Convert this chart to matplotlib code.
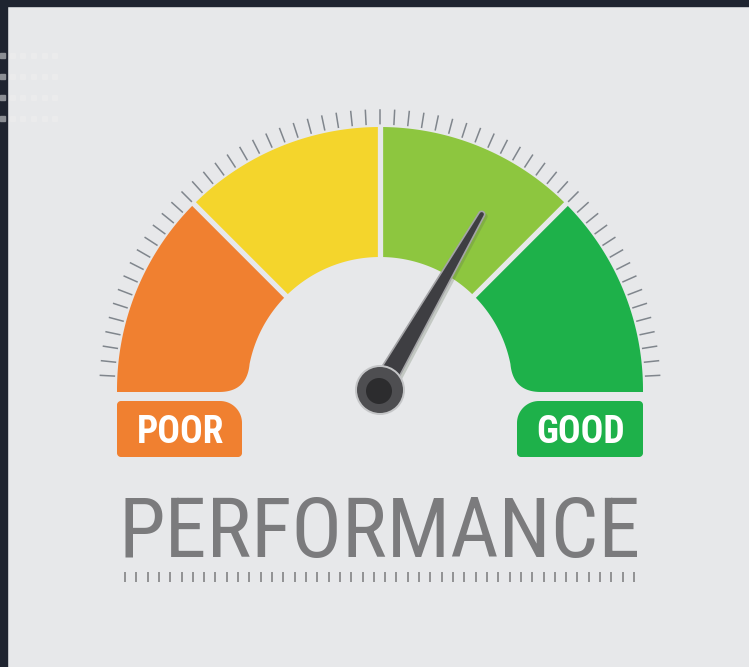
import numpy as np
import matplotlib.pyplot as plt
from matplotlib.patches import Polygon, Circle, Rectangle

# gauge data
zone_bounds = [0, 25, 50, 75, 100]
zone_colors = ["#f08030", "#f4d52c", "#8dc63f", "#1eb14a"]
zone_labels = ["POOR", "", "", "GOOD"]
needle_value = 66.7
scale_divisions = 60
ruler_count = 46
title = "PERFORMANCE"

BG = "#e7e8ea"
DARK = "#1f2430"
TICK = "#80868d"
TEXT = "#7b7b7d"

# geometry (pixels, y down)
cx, cy = 380, 390
r_out, r_in = 263, 133
y_bottom = 392
corner = 28


def val2ang(v):
    return 180.0 - 180.0 * v / 100.0


def pt(r, ang):
    a = np.radians(ang)
    return np.array([cx + r * np.cos(a), cy - r * np.sin(a)])


def arc(r, a0, a1, n=120):
    t = np.radians(np.linspace(a0, a1, n))
    return np.column_stack([cx + r * np.cos(t), cy - r * np.sin(t)])


def bezier(p0, p1, p2, n=30):
    t = np.linspace(0, 1, n)[:, None]
    return (1 - t) ** 2 * p0 + 2 * (1 - t) * t * p1 + t ** 2 * p2


def end_zone(a_inner):
    """left end zone (from a_inner up to 180 deg) with a flat, rounded bottom"""
    outer = arc(r_out, a_inner, 180)
    a_c = 180 - np.degrees(np.arcsin((cy - (y_bottom - corner)) / r_in))
    p0 = np.array([cx - r_in - corner, y_bottom])
    p1 = np.array([cx - r_in, y_bottom])
    p2 = pt(r_in, a_c)
    pts = np.vstack([outer, [[cx - r_out, y_bottom]], bezier(p0, p1, p2),
                     arc(r_in, a_c, a_inner)])
    return pts


def rounded_box(x0, y0, x1, y1, radii, n=20):
    tl, tr, br, bl = radii
    parts = []
    for (ccx, ccy, r, a0, a1) in [(x0 + tl, y0 + tl, tl, 180, 90),
                                  (x1 - tr, y0 + tr, tr, 90, 0),
                                  (x1 - br, y1 - br, br, 0, -90),
                                  (x0 + bl, y1 - bl, bl, -90, -180)]:
        t = np.radians(np.linspace(a0, a1, n))
        parts.append(np.column_stack([ccx + r * np.cos(t), ccy - r * np.sin(t)]))
    return np.vstack(parts)


fig = plt.figure(figsize=(7.49, 6.67), dpi=100)
fig.patch.set_facecolor(BG)
ax = fig.add_axes([0, 0, 1, 1])
ax.set_xlim(0, 749)
ax.set_ylim(667, 0)
ax.axis("off")

# dark frame on the left and top
ax.add_patch(Rectangle((0, 0), 7, 667, color=DARK, zorder=1))
ax.add_patch(Rectangle((0, 0), 749, 6, color=DARK, zorder=1))

# faint dots top left
for yy in [55, 76, 97, 118]:
    ax.add_patch(Rectangle((0, yy - 2.5), 4.5, 5, color="#8b8e94", zorder=2))
    for xx in [12.3, 22.7, 33.3, 44, 54.3]:
        ax.add_patch(Rectangle((xx - 2.5, yy - 2.5), 5, 5, color="#ebebec", zorder=2))

# zones
angles = [val2ang(v) for v in zone_bounds]
for i, col in enumerate(zone_colors):
    a0, a1 = angles[i + 1], angles[i]
    if i == 0:
        pts = end_zone(a0)
    elif i == len(zone_colors) - 1:
        pts = end_zone(180 - a1)
        pts[:, 0] = 2 * cx - pts[:, 0]
    else:
        pts = np.vstack([arc(r_out, a0, a1), arc(r_in, a1, a0)])
    ax.add_patch(Polygon(pts, closed=True, facecolor=col, edgecolor="none", zorder=3))

# gaps between zones
for a in angles[1:-1]:
    p, q = pt(r_in - 3, a), pt(r_out + 3, a)
    ax.plot([p[0], q[0]], [p[1], q[1]], color=BG, lw=3.8, solid_capstyle="butt", zorder=4)

# scale ticks around the dial
for k in range(1, scale_divisions):
    a = 180.0 * k / scale_divisions
    p, q = pt(r_out + 3, a), pt(r_out + 17, a)
    ax.plot([p[0], q[0]], [p[1], q[1]], color=TICK, lw=1.1, zorder=3)

# label boxes
y0_box, y1_box = y_bottom + 9, y_bottom + 65
boxes = [(cx - r_out, cx - r_in - 5, (4, 22, 4, 4)),
         (cx + r_in + 4, cx + r_out, (22, 4, 4, 4))]
for (x0, x1, radii), idx in zip(boxes, [0, len(zone_colors) - 1]):
    ax.add_patch(Polygon(rounded_box(x0, y0_box, x1, y1_box, radii), closed=True,
                         facecolor=zone_colors[idx], edgecolor="none", zorder=3))
    ax.text((x0 + x1) / 2 + 1, y0_box + 42, zone_labels[idx], color="white",
            fontsize=27, fontweight="bold", ha="center", va="baseline",
            family=["Roboto Condensed", "DejaVu Sans"], zorder=5)

# needle
na = np.radians(val2ang(needle_value))
u = np.array([np.cos(na), -np.sin(na)])
nrm = np.array([np.sin(na), np.cos(na)])
base = np.array([cx, cy])
tip = base + 203 * u
tip_arc = [tip + 3 * (np.cos(t) * nrm + np.sin(t) * u) for t in np.linspace(0, np.pi, 12)]
needle = np.vstack([[base - 6 * u + 11 * nrm], tip_arc, [base - 6 * u - 11 * nrm]])
ax.add_patch(Polygon(needle + np.array([3, 2]), closed=True, facecolor="#5a6a50",
                     edgecolor="none", alpha=0.25, zorder=5))
ax.add_patch(Polygon(needle, closed=True, facecolor="#3e3e42", edgecolor="#a4a4a7",
                     lw=1.2, zorder=6))
ax.add_patch(Circle((cx, cy), 25, facecolor="#c4c5c7", edgecolor="none", zorder=6))
ax.add_patch(Circle((cx, cy), 23, facecolor="#4e4e51", edgecolor="none", zorder=7))
ax.add_patch(Circle((cx - 1, cy + 1), 13, facecolor="#2c2c2e", edgecolor="none", zorder=8))

# title and ruler
ax.text(cx, 557, title, color=TEXT, fontsize=60.5, fontweight="normal", ha="center",
        va="baseline", family=["Roboto Condensed", "DejaVu Sans"], zorder=5)
xs = np.linspace(125, 634, ruler_count)
ax.vlines(xs, 572, 582, color="#8a8a8c", lw=1.3, zorder=5)

fig.savefig("out.png", dpi=100, facecolor=BG)
